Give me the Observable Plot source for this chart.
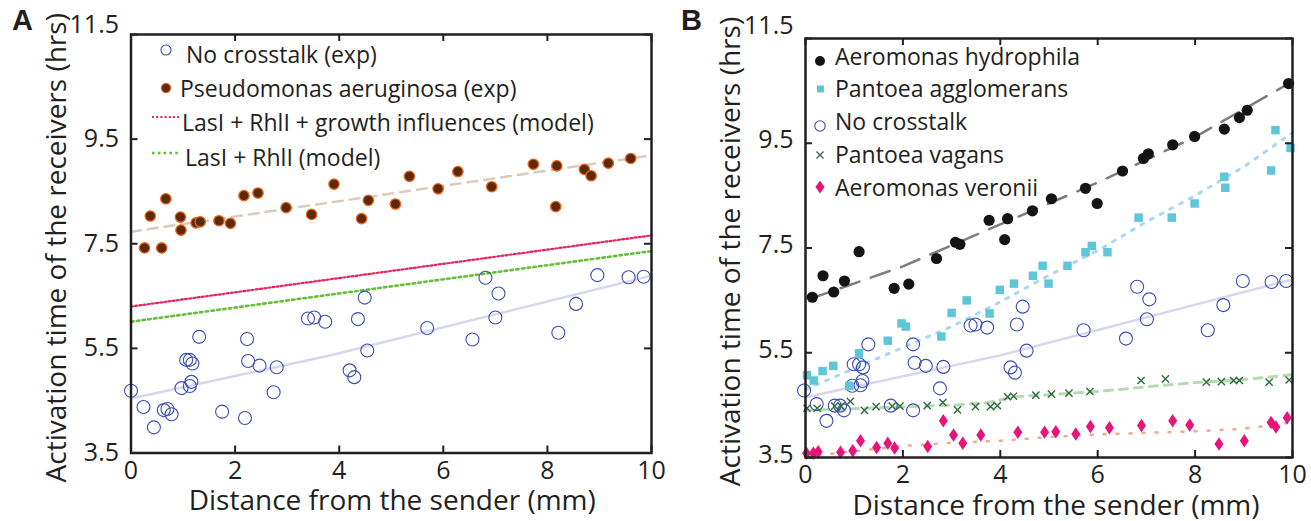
<!DOCTYPE html>
<html><head><meta charset="utf-8">
<script src="https://cdn.jsdelivr.net/npm/d3@7"></script>
<script src="https://cdn.jsdelivr.net/npm/@observablehq/plot@0.6"></script>
<style>
body{margin:0;background:#fff;}
#wrap{position:relative;width:1311px;height:521px;overflow:hidden;background:#fff;}
#wrap > svg{position:absolute;top:0;}
</style></head><body><div id="wrap"></div><script>
// ---------- shared axes ----------
const xTicks = [0, 2, 4, 6, 8, 10];
const yTicks = [3.5, 5.5, 7.5, 9.5, 11.5];
const xTitle = "Distance from the sender (mm)";
const yTitle = "Activation time of the receivers (hrs)";

// ---------- Panel A data ----------
const noCrosstalkA = [[0,4.69],[0.24,4.38],[0.44,3.99],[0.63,4.32],[0.70,4.34],[0.78,4.24],[0.97,4.74],[1.06,5.28],[1.13,5.28],[1.18,5.21],[1.13,4.78],[1.16,4.86],[1.31,5.72],[1.75,4.29],[2.23,5.68],[2.25,5.26],[2.19,4.17],[2.47,5.17],[2.74,4.66],[2.80,5.14],[3.40,6.07],[3.52,6.09],[3.73,6.01],[4.36,6.06],[4.49,6.47],[4.54,5.46],[4.20,5.08],[4.29,4.95],[5.69,5.89],[6.56,5.67],[6.81,6.85],[7.06,6.55],[7.00,6.09],[8.21,5.80],[8.55,6.35],[8.96,6.90],[9.56,6.86],[9.85,6.87]];
const pseudomonasA = [[0.26,7.42],[0.59,7.42],[0.37,8.03],[0.67,8.36],[0.95,8.01],[0.96,7.76],[1.25,7.90],[1.33,7.92],[1.69,7.94],[1.91,7.89],[2.17,8.42],[2.44,8.47],[2.98,8.19],[3.47,8.06],[3.90,8.64],[4.43,7.98],[4.56,8.33],[5.08,8.26],[5.35,8.79],[5.90,8.55],[6.28,8.88],[6.93,8.59],[7.73,9.02],[8.18,8.99],[8.16,8.21],[8.71,8.92],[8.84,8.80],[9.17,9.04],[9.60,9.13]];
const noCrosstalkFitA = [[0,4.54],[3.84,5.37],[10,6.89]];
const pseudomonasFitA = [[0,7.73],[10,9.19]];
const modelGrowthA = [[0,6.30],[10,7.66]];
const modelBasicA = [[0,6.01],[10,7.36]];
const legendLabelsA = ["No crosstalk (exp)", "Pseudomonas aeruginosa (exp)", "LasI + RhlI + growth influences (model)", "LasI + RhlI (model)"];

// ---------- Panel B data ----------
const hydrophilaB = [[0.14,6.56],[0.36,6.97],[0.58,6.66],[0.80,6.87],[1.10,7.43],[1.82,6.73],[2.12,6.81],[2.69,7.30],[3.08,7.61],[3.17,7.57],[3.77,8.03],[4.09,7.66],[4.15,8.06],[4.66,8.21],[5.05,8.44],[5.75,8.64],[5.99,8.35],[6.51,8.97],[6.94,9.21],[7.04,9.30],[7.54,9.47],[7.99,9.63],[8.60,9.77],[8.91,9.99],[9.07,10.13],[9.92,10.64]];
const agglomeransB = [[0.03,5.07],[0.17,4.97],[0.35,5.15],[0.57,5.25],[0.90,4.87],[1.10,5.49],[1.69,5.73],[1.97,6.06],[2.06,6.00],[2.79,5.81],[3.00,6.26],[3.31,6.50],[3.78,6.25],[3.99,6.70],[4.28,6.82],[4.67,6.97],[4.87,7.16],[4.99,6.82],[5.38,7.16],[5.75,7.42],[5.88,7.54],[6.20,7.42],[6.84,8.08],[7.52,8.08],[7.99,8.35],[8.60,8.86],[8.62,8.65],[9.56,8.98],[9.65,9.75],[9.96,9.41]];
const noCrosstalkB = [[-0.03,4.78],[0.23,4.52],[0.43,4.20],[0.60,4.49],[0.71,4.49],[0.79,4.40],[0.96,4.87],[0.99,5.28],[1.10,5.28],[1.18,5.22],[1.13,4.88],[1.17,4.96],[1.29,5.66],[1.75,4.49],[2.21,5.66],[2.24,5.31],[2.21,4.40],[2.47,5.25],[2.76,4.82],[2.83,5.23],[3.39,6.02],[3.49,6.04],[3.73,5.98],[4.34,6.04],[4.46,6.38],[4.54,5.54],[4.21,5.22],[4.30,5.12],[5.71,5.93],[6.58,5.77],[6.81,6.76],[7.06,6.52],[7.01,6.14],[8.26,5.93],[8.58,6.41],[8.98,6.87],[9.57,6.85],[9.87,6.87]];
const vagansB = [[0.03,4.44],[0.24,4.44],[0.60,4.48],[0.73,4.48],[0.92,4.57],[1.21,4.40],[1.45,4.47],[1.78,4.48],[1.94,4.48],[2.50,4.49],[2.82,4.55],[3.12,4.41],[3.49,4.47],[3.80,4.47],[3.94,4.49],[4.15,4.66],[4.27,4.67],[4.73,4.69],[5.05,4.71],[5.41,4.73],[5.84,4.76],[6.89,4.97],[7.39,5.00],[8.23,4.94],[8.54,4.95],[8.79,4.97],[8.91,4.97],[9.52,4.94],[9.93,4.98]];
const veroniiB = [[0.02,3.58],[0.16,3.58],[0.26,3.61],[0.72,3.60],[0.97,3.63],[1.13,3.82],[1.46,3.69],[1.69,3.77],[1.83,3.68],[2.51,3.71],[2.83,4.20],[3.04,3.93],[3.23,3.77],[3.60,3.93],[4.36,3.98],[4.91,3.98],[5.14,3.99],[5.55,3.95],[5.85,4.09],[6.24,4.07],[6.90,4.11],[7.54,4.20],[7.89,4.12],[8.49,3.76],[9.01,3.82],[9.56,4.17],[9.66,4.08],[9.89,4.26]];
const hydrophilaFitB = [[0.1,6.53],[2,7.15],[4,7.95],[6,8.75],[8,9.62],[10,10.68]];
const agglomeransFitB = [[0,4.8],[1,5.2],[2,5.6],[3,6.0],[4,6.47],[5,6.98],[6,7.45],[7,8.0],[8,8.5],[9,9.05],[10,9.7]];
const noCrosstalkFitB = [[0,4.65],[4,5.45],[10,6.9]];
const vagansFitB = [[0,4.40],[1,4.43],[2,4.47],[3,4.50],[3.7,4.54],[4.3,4.66],[5,4.70],[6,4.76],[7,4.85],[8,4.93],[9,4.99],[10,5.08]];
const veroniiFitB = [[0,3.52],[1,3.62],[2,3.72],[3,3.78],[4,3.82],[5,3.89],[6,3.94],[7,3.97],[8,4.0],[9,4.05],[10,4.17]];
const legendLabelsB = ["Aeromonas hydrophila", "Pantoea agglomerans", "No crosstalk", "Pantoea vagans", "Aeromonas veronii"];

// ---------- styles ----------
const INK = "#231f20";
const C = {
  blue: "#3b4cb3", brownFill: "#5c2a0b", brownEdge: "#e9661a",
  red: "#e6245d", green: "#66bf3a", tan: "#dbcbbd", lav: "#d6d6f0",
  black: "#141414", grey: "#7d7d7d", cyan: "#5fc6da", cyanLine: "#aad8f1",
  dkgreen: "#2e6b3d", ltgreen: "#b6dbb0", magenta: "#e6147c", salmon: "#f6a78f"
};
const tallDiamond = {draw(ctx, size) {
  const r = Math.sqrt(size / Math.PI), h = r * 1.35, w = r * 0.9;
  ctx.moveTo(0, -h); ctx.lineTo(w, 0); ctx.lineTo(0, h); ctx.lineTo(-w, 0); ctx.closePath();
}};
const xCross = {draw(ctx, size) {
  const r = Math.sqrt(size / Math.PI) * 0.8;
  ctx.moveTo(-r, -r); ctx.lineTo(r, r); ctx.moveTo(r, -r); ctx.lineTo(-r, r);
}};
const X = d => d[0], Y = d => d[1];
const fmt = d3.format(".1f");

function panel(o) {
  const W = o.width - o.ml - o.mr, H = o.height - o.mt - o.mb;
  const svg = Plot.plot({
    width: o.width, height: o.height,
    marginLeft: o.ml, marginRight: o.mr, marginTop: o.mt, marginBottom: o.mb,
    x: {domain: [0, 10], label: null},
    y: {domain: [3.5, 11.5], label: null},
    style: {fontFamily: '"Open Sans", sans-serif', fontSize: "25px", color: INK, background: "transparent", overflow: "visible"},
    marks: [
      ...o.marks,
      Plot.frame({stroke: INK, strokeWidth: 2.5}),
      Plot.tickX(xTicks, {x: d => d, insetTop: H - 7, stroke: INK, strokeWidth: 2}),
      Plot.tickX(xTicks, {x: d => d, insetBottom: H - 7, stroke: INK, strokeWidth: 2}),
      Plot.tickY(yTicks, {y: d => d, insetRight: W - 7, stroke: INK, strokeWidth: 2}),
      Plot.tickY(yTicks, {y: d => d, insetLeft: W - 7, stroke: INK, strokeWidth: 2}),
      Plot.axisX(xTicks, {tickSize: 0, tickPadding: 8, label: null, fontSize: 25, fill: INK}),
      Plot.axisY(yTicks.slice(0, 4), {tickSize: 0, tickPadding: 12, label: null, fontSize: 25, fill: INK, dy: o.ylabDy, tickFormat: fmt}),
      Plot.axisY([11.5], {tickSize: 0, tickPadding: 12, label: null, fontSize: 25, fill: INK, dy: o.topDy, tickFormat: fmt}),
      Plot.text([xTitle], {frameAnchor: "bottom", textAnchor: "middle", dy: 57, dx: o.titleDx, fontSize: 28, fill: INK}),
      Plot.text([yTitle], {frameAnchor: "left", textAnchor: "middle", rotate: -90, dx: -74, dy: o.yTitleDy, fontSize: 28, fill: INK})
    ]
  });
  svg.style.left = o.left + "px";
  return svg;
}

const wrap = document.getElementById("wrap");

wrap.appendChild(panel({
  left: 0, width: 660, height: 521, ml: 130.5, mr: 9, mt: 34, mb: 68.5,
  ylabDy: 0, topDy: -10, titleDx: 1, yTitleDy: 4,
  marks: [
    Plot.line(noCrosstalkFitA, {x: X, y: Y, stroke: C.lav, strokeWidth: 2.5}),
    Plot.line(modelGrowthA, {x: X, y: Y, stroke: C.red, strokeWidth: 2.2, strokeDasharray: "2,2.2"}),
    Plot.line(modelBasicA, {x: X, y: Y, stroke: C.green, strokeWidth: 2.6, strokeDasharray: "2.6,3.2"}),
    Plot.line(pseudomonasFitA, {x: X, y: Y, stroke: C.tan, strokeWidth: 2.5, strokeDasharray: "10,7"}),
    Plot.dot(noCrosstalkA, {x: X, y: Y, r: 6.5, stroke: C.blue, strokeWidth: 1.1, fill: "none"}),
    Plot.dot(pseudomonasA, {x: X, y: Y, r: 5.2, fill: C.brownFill, stroke: C.brownEdge, strokeWidth: 1.3})
  ]
}));

wrap.appendChild(panel({
  left: 660, width: 651, height: 521, ml: 145, mr: 19, mt: 38, mb: 64,
  ylabDy: -3, topDy: -13, titleDx: 7, yTitleDy: 3.5,
  marks: [
    Plot.line(noCrosstalkFitB, {x: X, y: Y, stroke: C.lav, strokeWidth: 2.5}),
    Plot.line(agglomeransFitB, {x: X, y: Y, stroke: C.cyanLine, strokeWidth: 3, strokeDasharray: "3,8"}),
    Plot.line(vagansFitB, {x: X, y: Y, stroke: C.ltgreen, strokeWidth: 3, strokeDasharray: "8,7"}),
    Plot.line(veroniiFitB, {x: X, y: Y, stroke: C.salmon, strokeWidth: 2.5, strokeDasharray: "2,11"}),
    Plot.line(hydrophilaFitB, {x: X, y: Y, stroke: C.grey, strokeWidth: 2.5, strokeDasharray: "20,12"}),
    Plot.dot(noCrosstalkB, {x: X, y: Y, r: 6.5, stroke: C.blue, strokeWidth: 1.1, fill: "none"}),
    Plot.dot(vagansB, {x: X, y: Y, r: 4.5, symbol: xCross, stroke: C.dkgreen, strokeWidth: 1.4, fill: "none"}),
    Plot.dot(veroniiB, {x: X, y: Y, r: 5, symbol: tallDiamond, fill: C.magenta, stroke: "none"}),
    Plot.dot(agglomeransB, {x: X, y: Y, r: 4.8, symbol: "square", fill: C.cyan, stroke: "none"}),
    Plot.dot(hydrophilaB, {x: X, y: Y, r: 5.6, fill: C.black, stroke: "none"})
  ]
}));

// ---------- legends & panel letters (overlay) ----------
const ov = d3.select(wrap).append("svg").attr("width", 1311).attr("height", 521)
  .style("left", "0px").style("pointer-events", "none")
  .attr("font-family", '"Open Sans", sans-serif').attr("fill", INK);

ov.append("text").attr("x", 12).attr("y", 30).attr("font-family", '"Liberation Sans", Arial, sans-serif')
  .attr("font-weight", "bold").attr("font-size", 29).text("A");
ov.append("text").attr("x", 681).attr("y", 30).attr("font-family", '"Liberation Sans", Arial, sans-serif')
  .attr("font-weight", "bold").attr("font-size", 29).text("B");

// Panel A legend
const gA = ov.append("g").attr("font-size", 23);
gA.append("circle").attr("cx", 166).attr("cy", 50).attr("r", 5).attr("fill", "none").attr("stroke", C.blue).attr("stroke-width", 1.1);
gA.append("circle").attr("cx", 166).attr("cy", 88).attr("r", 4.6).attr("fill", C.brownFill).attr("stroke", C.brownEdge).attr("stroke-width", 1.2);
gA.append("line").attr("x1", 152).attr("x2", 179).attr("y1", 117).attr("y2", 117).attr("stroke", C.red).attr("stroke-width", 2.2).attr("stroke-dasharray", "2,2.2");
gA.append("line").attr("x1", 152).attr("x2", 179).attr("y1", 153).attr("y2", 153).attr("stroke", C.green).attr("stroke-width", 2.6).attr("stroke-dasharray", "2.6,3.2");
const posA = [[186, 62.5], [180, 97], [182, 131], [185, 166]];
legendLabelsA.forEach((t, i) => gA.append("text").attr("x", posA[i][0]).attr("y", posA[i][1]).text(t));

// Panel B legend
const gB = ov.append("g").attr("font-size", 23);
gB.append("circle").attr("cx", 820).attr("cy", 61).attr("r", 5).attr("fill", C.black);
gB.append("rect").attr("x", 817).attr("y", 85.5).attr("width", 7).attr("height", 7).attr("fill", C.cyan);
gB.append("circle").attr("cx", 820).attr("cy", 126).attr("r", 5.2).attr("fill", "none").attr("stroke", C.blue).attr("stroke-width", 1.1);
gB.append("path").attr("d", "M816.5,151.5L823.5,158.5M823.5,151.5L816.5,158.5").attr("stroke", C.dkgreen).attr("stroke-width", 1.3);
gB.append("path").attr("d", "M820,180.5L824.5,187L820,193.5L815.5,187Z").attr("fill", C.magenta);
const baseB = [64.5, 97, 130, 163, 196];
legendLabelsB.forEach((t, i) => gB.append("text").attr("x", 835).attr("y", baseB[i]).text(t));
</script></body></html>
